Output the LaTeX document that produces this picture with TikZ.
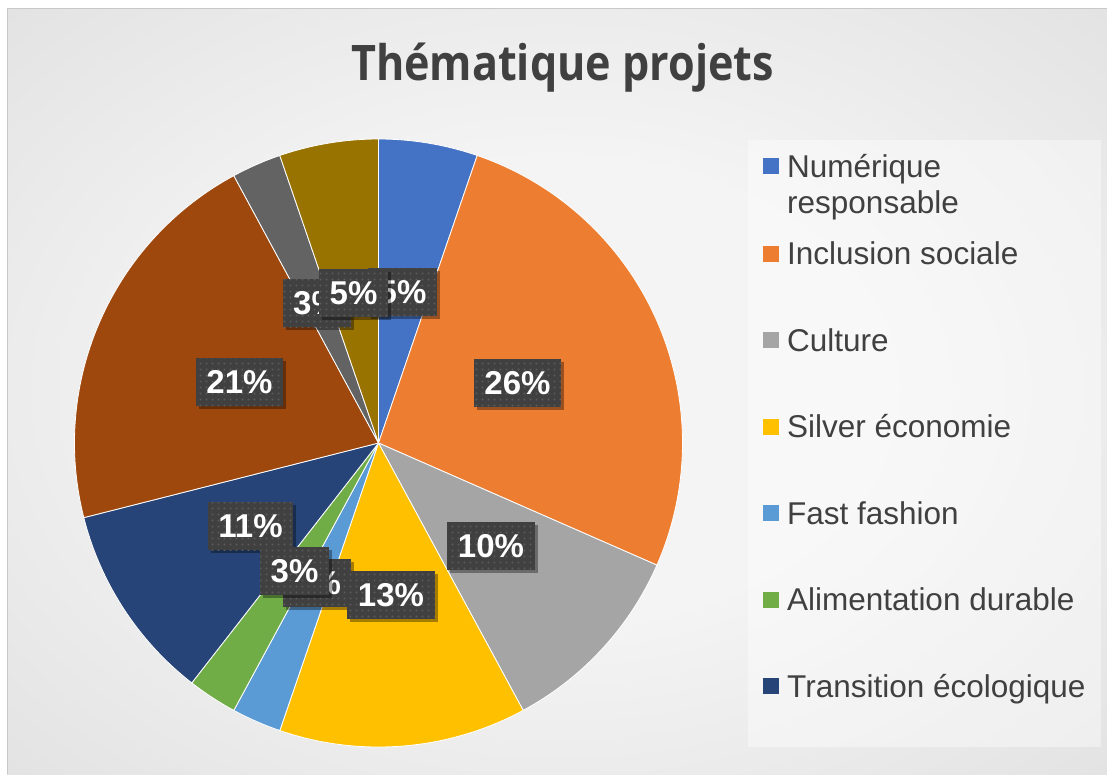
\documentclass[tikz,border=0pt]{standalone}
\usepackage{graphicx}
\usepackage{fontspec}
\setmainfont{Liberation Sans}
\newfontfamily\titlefont{Open Sans}
\usetikzlibrary{shadows,patterns.meta}
\definecolor{cNum}{HTML}{4472C4}
\definecolor{cInc}{HTML}{ED7D31}
\definecolor{cCul}{HTML}{A5A5A5}
\definecolor{cSil}{HTML}{FFC000}
\definecolor{cFas}{HTML}{5B9BD5}
\definecolor{cAli}{HTML}{70AD47}
\definecolor{cTra}{HTML}{264478}
\definecolor{cSeight}{HTML}{9E480E}
\definecolor{cSnine}{HTML}{636363}
\definecolor{cSten}{HTML}{997300}
\definecolor{txt}{HTML}{404040}
\definecolor{lblbg}{HTML}{404040}
\definecolor{lbldot}{HTML}{5C5C5C}
\definecolor{bgin}{HTML}{F4F4F4}
\definecolor{bgout}{HTML}{C4C4C4}
\definecolor{framegray}{HTML}{C8C8C8}
\pgfdeclareradialshading{bgshade}{\pgfpoint{0bp}{0bp}}{color(0bp)=(bgin); color(15bp)=(bgin); color(72bp)=(bgout)}
\tikzdeclarepattern{
  name=lbldots,
  type=uncolored,
  bounding box={(0pt,0pt) and (6pt,6pt)},
  tile size={(6pt,6pt)},
  code={\fill (2pt,2pt) rectangle (4pt,4pt);}
}
\begin{document}
\begin{tikzpicture}[x=1pt,y=-1pt,
  lbl/.style={fill=lblbg, text=white, font=\bfseries\fontsize{33}{33}\selectfont,
    inner xsep=10.5pt, inner ysep=0pt, minimum height=48pt, text height=23.6pt, text depth=0pt,
    drop shadow={shadow xshift=3pt, shadow yshift=-3pt, opacity=0.35, fill=black},
    postaction={pattern=lbldots, pattern color=lbldot}},
  legmark/.style={fill=#1, minimum size=16pt, inner sep=0pt},
  legtext/.style={anchor=base west, text=txt, font=\fontsize{31.5}{36}\selectfont, inner sep=0pt, align=left},
  slice/.style={fill=#1, draw=white, line width=0.8pt, line join=round}]
\useasboundingbox (0,0) rectangle (1107,774);
\fill[white] (0,0) rectangle (1107,774);
\shade[shading=bgshade] (7,8) rectangle (1107,774);
\draw[framegray, line width=1pt] (7.5,774) -- (7.5,8.5) -- (1107,8.5);
% title
\node (title) [anchor=base, text=txt, font=\titlefont\bfseries\fontsize{49}{49}\selectfont, inner sep=0pt] at (562.5,80) {\scalebox{0.88}[1]{Thématique projets}};
% pie
\coordinate (c) at (378.5,443);
\foreach \a/\b/\c in {0/2/cNum,2/12/cInc,12/16/cCul,16/21/cSil,21/22/cFas,22/23/cAli,23/27/cTra,27/35/cSeight,35/36/cSnine,36/38/cSten}
  \filldraw[slice=\c] (c) -- ++({90-\a*360/38}:304pt) arc[start angle={90-\a*360/38}, end angle={90-\b*360/38}, radius=304pt] -- cycle;
% data labels
\node[lbl] (lNum) at (402.5,292) {5\%};
\node[lbl] (lSnine) at (317,303) {3\%};
\node[lbl] (lSten) at (353.5,293) {5\%};
\node[lbl] (lInc) at (517.5,383) {26\%};
\node[lbl] (lSeight) at (239.5,382) {21\%};
\node[lbl] (lCul) at (491,546) {10\%};
\node[lbl] (lTra) at (250.5,526) {11\%};
\node[lbl] (lFas) at (317,582.5) {3\%};
\node[lbl] (lAli) at (294.5,570.5) {3\%};
\node[lbl] (lSil) at (391,594.5) {13\%};
% legend
\fill[white, opacity=0.4] (748,140) rectangle (1101,747);
\node[legmark=cNum] (mNum) at (771,166) {};
\node[legtext] (tNum) at (787,213.3) {Numérique\\responsable};
\node[legmark=cInc] (mInc) at (771,253.5) {};
\node[legtext] (tInc) at (787,264.8) {Inclusion sociale};
\node[legmark=cCul] (mCul) at (771,340) {};
\node[legtext] (tCul) at (787,351.3) {Culture};
\node[legmark=cSil] (mSil) at (771,426.5) {};
\node[legtext] (tSil) at (787,437.8) {Silver économie};
\node[legmark=cFas] (mFas) at (771,513) {};
\node[legtext] (tFas) at (787,524.3) {Fast fashion};
\node[legmark=cAli] (mAli) at (771,599.5) {};
\node[legtext] (tAli) at (787,610.8) {Alimentation durable};
\node[legmark=cTra] (mTra) at (771,686) {};
\node[legtext] (tTra) at (787,697.3) {Transition écologique};
\end{tikzpicture}
\end{document}
